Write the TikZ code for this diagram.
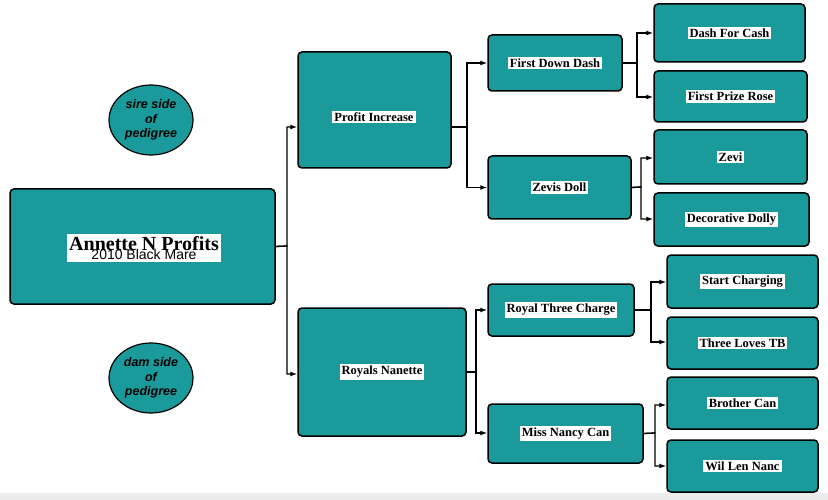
\documentclass[tikz,border=0pt]{standalone}
\usepackage{fontspec}
\setmainfont{Liberation Serif}
\setsansfont{Liberation Sans}
\usetikzlibrary{arrows.meta,shapes.geometric}
\definecolor{teal1}{HTML}{1A9A9A}
\begin{document}
\begin{tikzpicture}[x=1pt,y=-1pt,
  box/.style={draw=black,line width=1.5pt,fill=teal1,rounded corners=4pt,inner sep=0pt},
  lab/.style={fill=white,inner sep=2pt,font=\bfseries\fontsize{12.5}{14}\selectfont},
  ell/.style={draw=black,line width=1.2pt,fill=teal1,ellipse,minimum width=84pt,minimum height=70pt,align=center,font=\sffamily\bfseries\itshape\fontsize{12.5}{14.5}\selectfont,inner sep=0pt},
  conn/.style={line width=1.3pt,-{Latex[length=7pt,width=5pt]}}]
\useasboundingbox (0,0) rectangle (828,500);
\fill[gray!15] (0,493) rectangle (828,500);
\newcommand\bx[6]{\node[box,minimum width=#4-#2,minimum height=#5-#3] (#1) at ({(#2+#4)/2},{(#3+#5)/2}) {};
\node[lab] at (#1) {#6};}
\node[box,minimum width=265,minimum height=115] (root) at (142.5,246.5) {};
\node[fill=white,inner sep=2pt,align=center] at (144,248) {{\bfseries\fontsize{20}{22}\selectfont Annette N Profits}\\[-3pt]{\sffamily\fontsize{14}{16}\selectfont 2010 Black Mare}};
\node[box,minimum width=153,minimum height=116] (pi) at (374.5,110) {};
\node[lab] at (374,117) {Profit Increase};
\bx{rn}{298}{308}{466}{436}{Royals Nanette}
\bx{fdd}{488}{35}{622}{91}{First Down Dash}
\bx{zd}{488}{156}{631}{219}{Zevis Doll}
\bx{rtc}{488}{284}{634}{336}{Royal Three Charge}
\bx{mnc}{488}{404}{643}{463}{Miss Nancy Can}
\bx{dfc}{654}{4}{805}{62}{Dash For Cash}
\bx{fpr}{654}{71}{807}{122}{First Prize Rose}
\bx{zevi}{654}{130}{807}{184}{Zevi}
\bx{dd}{654}{193}{809}{246}{Decorative Dolly}
\bx{sc}{667}{255}{818}{308}{Start Charging}
\bx{tl}{667}{317}{818}{369}{Three Loves TB}
\bx{bc}{667}{377}{818}{429}{Brother Can}
\bx{wl}{667}{440}{818}{492}{Wil Len Nanc}
\node[ell] (sire) at (151,120) {sire side\\of\\pedigree};
\node[ell] (dam) at (151,378) {dam side\\of\\pedigree};
\draw[conn] (root.east) -- (287,246) |- (pi.west|-0,127);
\draw[conn] (root.east) -- (287,246) |- (rn.west|-0,374);
\draw[conn] (pi.east|-0,127) -- (467,127) |- (fdd.west);
\draw[conn] (pi.east|-0,127) -- (467,127) |- (zd.west);
\draw[conn] (fdd.east) -- (637,63) |- (dfc.west|-0,33);
\draw[conn] (fdd.east) -- (637,63) |- (fpr.west|-0,97);
\draw[conn] (zd.east) -- (641,187) |- (zevi.west|-0,158);
\draw[conn] (zd.east) -- (641,187) |- (dd.west|-0,219);
\draw[conn] (rn.east) -- (476,372) |- (rtc.west|-0,310);
\draw[conn] (rn.east) -- (476,372) |- (mnc.west|-0,433);
\draw[conn] (rtc.east) -- (651,310) |- (sc.west|-0,282);
\draw[conn] (rtc.east) -- (651,310) |- (tl.west|-0,342);
\draw[conn] (mnc.east) -- (655,433) |- (bc.west|-0,405);
\draw[conn] (mnc.east) -- (655,433) |- (wl.west|-0,466);
\end{tikzpicture}
\end{document}
